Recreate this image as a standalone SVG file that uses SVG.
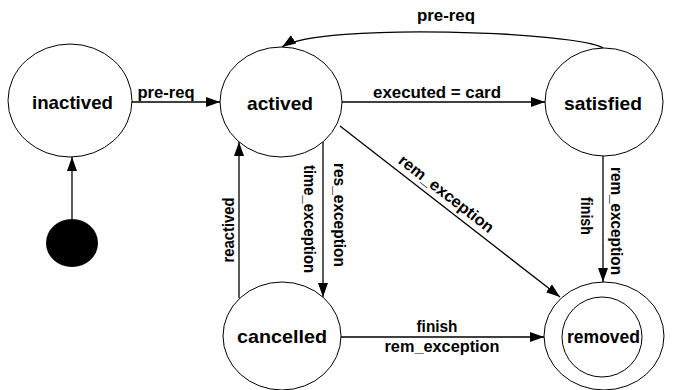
<svg xmlns="http://www.w3.org/2000/svg" width="673" height="390" viewBox="0 0 673 390">
<style>
.node{fill:#fff;stroke:#000;stroke-width:1}
.nl{font-family:"Liberation Sans",Arial,sans-serif;font-weight:bold;font-size:19px;fill:#000;text-anchor:middle}
.el{font-family:"Liberation Sans",Arial,sans-serif;font-weight:bold;font-size:16px;fill:#000;text-anchor:middle}
.edge{fill:none;stroke:#000;stroke-width:1.3;marker-end:url(#ah)}
</style>
<defs>
<marker id="ah" markerUnits="userSpaceOnUse" markerWidth="16" markerHeight="12" refX="14" refY="5" orient="auto">
<path d="M0,0 L14,5 L0,10 z" fill="#000"/>
</marker>
</defs>
<rect width="673" height="390" fill="#fff"/>
<g id="connectors">
<path class="edge" d="M72,220 L72,157"/>
<path class="edge" d="M132,102 L220,102"/>
<path class="edge" d="M341,102 L545,102"/>
<path class="edge" d="M603,48 C580,32 320,22 282,47"/>
<path class="edge" d="M340,126 L560,297"/>
<path class="edge" d="M239,298 L239,142"/>
<path class="edge" d="M323,142 L323,297"/>
<path class="edge" d="M603,156 L603,282"/>
<path class="edge" d="M341,337 L544,337"/>
<text class="el" x="166" y="98" textLength="57" lengthAdjust="spacingAndGlyphs">pre-req</text>
<text class="el" x="446" y="21" textLength="58" lengthAdjust="spacingAndGlyphs">pre-req</text>
<text class="el" x="437" y="98" textLength="128" lengthAdjust="spacingAndGlyphs">executed = card</text>
<text class="el" x="443" y="198" transform="rotate(37.85 443 198)" textLength="116" lengthAdjust="spacingAndGlyphs">rem_exception</text>
<text class="el" x="0" y="0" transform="translate(233.5,230) rotate(-90)" textLength="65" lengthAdjust="spacingAndGlyphs">reactived</text>
<text class="el" x="0" y="0" transform="translate(304,219) rotate(90)" textLength="108" lengthAdjust="spacingAndGlyphs">time_exception</text>
<text class="el" x="0" y="0" transform="translate(334,215) rotate(90)" textLength="104" lengthAdjust="spacingAndGlyphs">res_exception</text>
<text class="el" x="0" y="0" transform="translate(611,221) rotate(90)" textLength="108" lengthAdjust="spacingAndGlyphs">rem_exception</text>
<text class="el" x="0" y="0" transform="translate(581,216) rotate(90)" textLength="38" lengthAdjust="spacingAndGlyphs">finish</text>
<text class="el" x="437" y="332" textLength="41" lengthAdjust="spacingAndGlyphs">finish</text>
<text class="el" x="442" y="352" textLength="115" lengthAdjust="spacingAndGlyphs">rem_exception</text>
</g>
<g id="initial">
<ellipse cx="72" cy="243" rx="26" ry="24" fill="#000"/>
</g>
<g id="inactived">
<ellipse class="node" cx="70" cy="100.5" rx="62" ry="56.5"/>
<text class="nl" x="72.5" y="109" textLength="81" lengthAdjust="spacingAndGlyphs">inactived</text>
</g>
<g id="actived">
<ellipse class="node" cx="281" cy="102" rx="61" ry="55"/>
<text class="nl" x="280" y="110" textLength="66" lengthAdjust="spacingAndGlyphs">actived</text>
</g>
<g id="satisfied">
<ellipse class="node" cx="604" cy="102" rx="59" ry="54"/>
<text class="nl" x="603" y="110" textLength="78" lengthAdjust="spacingAndGlyphs">satisfied</text>
</g>
<g id="cancelled">
<ellipse class="node" cx="282" cy="336" rx="59" ry="54"/>
<text class="nl" x="282" y="343" textLength="90" lengthAdjust="spacingAndGlyphs">cancelled</text>
</g>
<g id="removed">
<ellipse class="node" cx="604" cy="336" rx="60" ry="54"/>
<ellipse class="node" cx="602" cy="337" rx="40" ry="40"/>
<text class="nl" x="603.5" y="343" textLength="73" lengthAdjust="spacingAndGlyphs">removed</text>
</g>
</svg>
